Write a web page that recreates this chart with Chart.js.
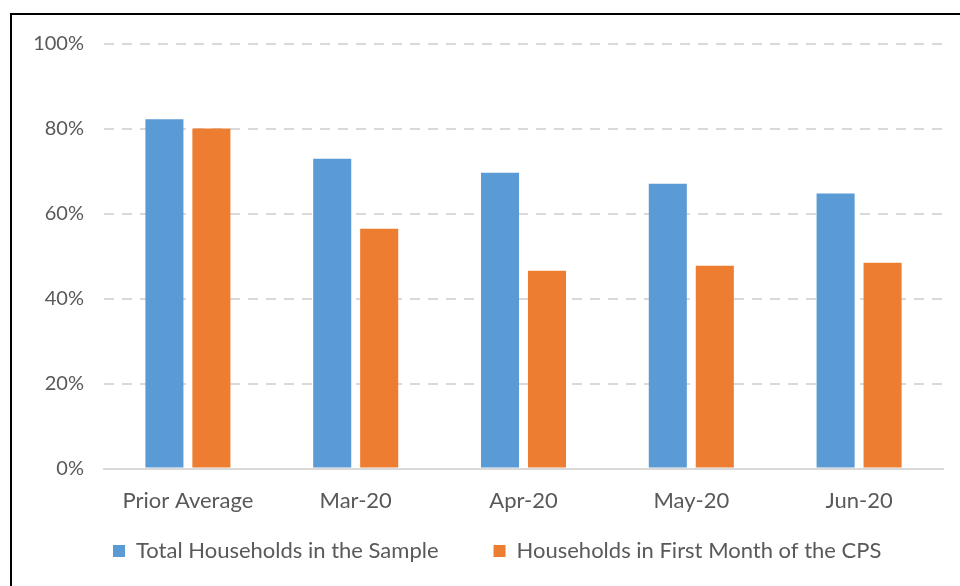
<!DOCTYPE html>
<html>
<head>
<meta charset="utf-8">
<script src="https://cdn.jsdelivr.net/npm/chart.js@4/dist/chart.umd.min.js"></script>
<style>
  html, body { margin: 0; padding: 0; background: #fff; overflow: hidden; }
  #frame { position: absolute; left: 10px; top: 13px; width: 1000px; height: 620px;
           border-left: 2px solid #000; border-top: 2px solid #000; }
  #chart { position: absolute; left: 0; top: 0; }
</style>
</head>
<body>
<div id="frame"></div>
<canvas id="chart" width="960" height="586"></canvas>
<script>
const categories = ["Prior Average", "Mar-20", "Apr-20", "May-20", "Jun-20"];
const totalHouseholds = [82.3, 73.0, 69.7, 67.1, 64.8];
const firstMonthHouseholds = [80.1, 56.5, 46.6, 47.8, 48.5];
const yTicks = [0, 20, 40, 60, 80, 100];

const textColor = "#595959";
const gridColor = "#d9d9d9";

// move the legend row to where the reference has it (left start, centre line ~551px)
const legendPlacer = {
  id: "legendPlacer",
  afterLayout(chart) {
    const lg = chart.legend;
    const h = 90;
    lg.left = 58;
    lg.right = chart.width;
    lg.top = 485;
    lg.bottom = lg.top + h;
    lg.height = h;
    lg.width = lg.right - lg.left;
  }
};

new Chart(document.getElementById("chart").getContext("2d"), {
  type: "bar",
  data: {
    labels: categories,
    datasets: [
      {
        label: "Total Households in the Sample",
        data: totalHouseholds,
        backgroundColor: "#5b9bd5"
      },
      {
        label: "Households in First Month of the CPS",
        data: firstMonthHouseholds,
        backgroundColor: "#ed7d31"
      }
    ]
  },
  options: {
    responsive: false,
    animation: false,
    categoryPercentage: 0.56,
    barPercentage: 0.81,
    layout: { padding: { top: 44, left: 0, right: 17, bottom: 23 } },
    plugins: {
      tooltip: { enabled: false },
      legend: {
        position: "bottom",
        align: "start",
        maxHeight: 30,
        labels: {
          boxWidth: 12,
          boxHeight: 12,
          padding: 55,
          color: textColor,
          font: { family: "Lato", size: 22 }
        }
      }
    },
    scales: {
      x: {
        grid: { display: false, drawTicks: false },
        border: { display: true, color: gridColor, width: 2 },
        ticks: { color: textColor, padding: 19, font: { family: "Lato", size: 22 } }
      },
      y: {
        min: 0,
        max: 100,
        afterBuildTicks: (scale) => { scale.ticks = yTicks.map(v => ({ value: v })); },
        grid: {
          drawTicks: false,
          lineWidth: 2,
          color: (ctx) => ctx.tick && ctx.tick.value === 0 ? "rgba(0,0,0,0)" : gridColor
        },
        border: { display: false, dash: [10, 8] },
        ticks: {
          color: textColor,
          padding: 20,
          font: { family: "Lato", size: 20 },
          callback: (v) => v + "%"
        },
        afterFit: (scale) => { scale.width = 104; }
      }
    }
  },
  plugins: [legendPlacer]
});
</script>
</body>
</html>
